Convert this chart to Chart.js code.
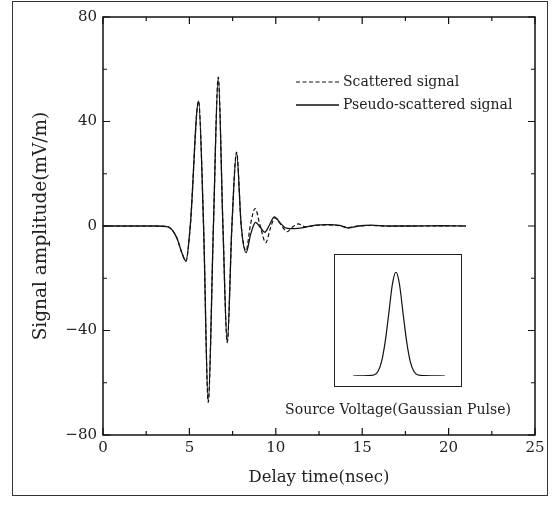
<!DOCTYPE html>
<html lang="en">
<head>
    <meta charset="UTF-8">
    <title>Scattered signal</title>
    <script src="https://cdn.jsdelivr.net/npm/chart.js"></script>
    <style>
        body { margin: 0; background: #fff; font-family: "DejaVu Serif", serif; color: #222; }
        .wrap { position: relative; width: 557px; height: 506px; }
        .frame { position: absolute; left: 12px; top: 1px; width: 534px; height: 493px; border: 1.5px solid #333; }
        #main { position: absolute; left: 0; top: 0; }
        .legend { position: absolute; left: 296px; top: 70px; font-size: 14px; line-height: 23px; }
        .legend div { display: flex; align-items: center; }
        .legend svg { margin-right: 4px; }
        .inset { position: absolute; left: 334px; top: 254px; width: 126px; height: 131px; border: 1px solid #222; }
        .caption { position: absolute; left: 268px; width: 260px; top: 401px; text-align: center; font-size: 14px; }
    </style>
</head>
<body>
    <div class="wrap">
        <div class="frame"></div>
        <canvas id="main" width="557" height="506"></canvas>
        <div class="legend">
            <div><svg width="43" height="4"><line x1="0" y1="2" x2="43" y2="2" stroke="#111" stroke-width="1.2" stroke-dasharray="4 2.5"/></svg>Scattered signal</div>
            <div><svg width="43" height="4"><line x1="0" y1="2" x2="43" y2="2" stroke="#111" stroke-width="1.3"/></svg>Pseudo-scattered signal</div>
        </div>
        <div class="inset"><canvas id="pulse" width="126" height="131"></canvas></div>
        <div class="caption">Source Voltage(Gaussian Pulse)</div>
    </div>

    <script>
        // delay time (nsec) / amplitude (mV/m)
        const pseudoTime = [0, 3.0, 3.7, 4.0, 4.3, 4.55, 4.8, 5.05, 5.53, 5.82, 6.09, 6.39, 6.67, 6.94, 7.19, 7.46, 7.73, 8.0, 8.28, 8.55, 8.83, 9.1, 9.36, 9.62, 9.92, 10.25, 10.6, 11.1, 11.6, 12.3, 13.0, 13.7, 14.2, 14.8, 15.5, 16.5, 18, 19.5, 21];
        const pseudoAmp  = [0, 0, -0.2, -1.5, -5, -10, -13.4, 0, 47.8, 0, -67.3, 0, 56.8, 0, -44.7, 0, 28.1, 0, -10.2, -3, 1.4, -0.5, -2.4, 0.2, 3.5, 1.2, -0.8, -1.0, -0.6, 0.3, 0.5, 0.2, -0.8, 0, 0.3, 0, 0, 0.1, 0];

        const scatterTime = [0, 3.0, 3.7, 4.0, 4.3, 4.55, 4.8, 5.05, 5.53, 5.82, 6.09, 6.39, 6.67, 6.94, 7.19, 7.46, 7.73, 8.0, 8.28, 8.52, 8.8, 9.1, 9.42, 9.68, 9.95, 10.3, 10.65, 10.95, 11.3, 11.7, 12.3, 13.0, 13.7, 14.2, 14.8, 15.5, 16.5, 18, 19.5, 21];
        const scatterAmp  = [0, 0, -0.2, -1.5, -5, -10, -13.4, 0, 47.8, 0, -67.5, 0, 57, 0, -44.5, 0, 28.3, 0, -9.5, 0, 6.7, 0, -6.4, -1, 3.1, 0.5, -2.2, -0.5, 0.8, -0.3, 0.2, 0.4, 0.1, -0.6, 0, 0.2, -0.1, 0, 0, 0];

        // inset: source gaussian pulse (relative units)
        const pulseTime = [0, 14, 21, 24.5, 28, 31.5, 35, 38.5, 42, 45.5, 49, 52.5, 56, 59.5, 63, 70, 90];
        const pulseAmp  = [0, 0.004, 0.012, 0.045, 0.14, 0.33, 0.6, 0.88, 1, 0.88, 0.6, 0.33, 0.14, 0.045, 0.012, 0.004, 0];

        const xTicksMajor = [0, 5, 10, 15, 20, 25];
        const yTicksMajor = [-80, -40, 0, 40, 80];

        const toPoints = (xs, ys) => xs.map((v, i) => ({x: v, y: ys[i]}));
        const serif = '"DejaVu Serif", serif';

        // ticks pointing inward on all four sides + closed box
        const insideTicks = {
            id: 'insideTicks',
            afterDraw(chart) {
                const {ctx, chartArea: a, scales: {x, y}} = chart;
                ctx.save();
                ctx.strokeStyle = '#111';
                ctx.lineWidth = 1.5;
                ctx.strokeRect(a.left, a.top, a.right - a.left, a.bottom - a.top);
                ctx.lineWidth = 1.2;
                ctx.beginPath();
                x.ticks.forEach(t => {
                    const px = x.getPixelForValue(t.value);
                    const len = xTicksMajor.includes(t.value) ? 7 : 4;
                    ctx.moveTo(px, a.bottom); ctx.lineTo(px, a.bottom - len);
                    ctx.moveTo(px, a.top); ctx.lineTo(px, a.top + len);
                });
                y.ticks.forEach(t => {
                    const py = y.getPixelForValue(t.value);
                    const len = yTicksMajor.includes(t.value) ? 7 : 4;
                    ctx.moveTo(a.left, py); ctx.lineTo(a.left + len, py);
                    ctx.moveTo(a.right, py); ctx.lineTo(a.right - len, py);
                });
                ctx.stroke();
                ctx.restore();
            }
        };

        new Chart(document.getElementById('main'), {
            type: 'line',
            data: {
                datasets: [{
                    label: 'Pseudo-scattered signal',
                    data: toPoints(pseudoTime, pseudoAmp),
                    borderColor: '#111',
                    borderWidth: 1.3,
                    pointRadius: 0,
                    cubicInterpolationMode: 'monotone'
                }, {
                    label: 'Scattered signal',
                    data: toPoints(scatterTime, scatterAmp),
                    borderColor: '#111',
                    borderWidth: 1.2,
                    borderDash: [4, 2.5],
                    pointRadius: 0,
                    cubicInterpolationMode: 'monotone'
                }]
            },
            options: {
                responsive: false,
                animation: false,
                events: [],
                layout: { padding: { top: 17, right: 22, left: 0, bottom: 0 } },
                plugins: { legend: { display: false }, tooltip: { enabled: false } },
                scales: {
                    x: {
                        type: 'linear',
                        min: 0, max: 25,
                        afterFit(s) { s.height = 71; },
                        grid: { display: false, drawTicks: false },
                        border: { display: false },
                        ticks: {
                            stepSize: 2.5,
                            autoSkip: false,
                            maxRotation: 0,
                            padding: 4,
                            color: '#222',
                            font: { family: serif, size: 15 },
                            callback: v => xTicksMajor.includes(v) ? String(v) : ''
                        },
                        title: {
                            display: true,
                            text: 'Delay time(nsec)',
                            color: '#222',
                            font: { family: serif, size: 16.5 },
                            padding: { top: 0, bottom: 18 }
                        }
                    },
                    y: {
                        min: -80, max: 80,
                        afterFit(s) { s.width = 103; },
                        grid: { display: false, drawTicks: false },
                        border: { display: false },
                        ticks: {
                            stepSize: 20,
                            autoSkip: false,
                            padding: 6,
                            color: '#222',
                            font: { family: serif, size: 15 },
                            callback: v => yTicksMajor.includes(v) ? (v < 0 ? '\u2212' + (-v) : String(v)) : ''
                        },
                        title: {
                            display: true,
                            text: 'Signal amplitude(mV/m)',
                            color: '#222',
                            font: { family: serif, size: 18.5 },
                            padding: { top: 30, bottom: 0 }
                        }
                    }
                }
            },
            plugins: [insideTicks]
        });

        new Chart(document.getElementById('pulse'), {
            type: 'line',
            data: {
                datasets: [{
                    data: toPoints(pulseTime, pulseAmp),
                    borderColor: '#111',
                    borderWidth: 1.2,
                    pointRadius: 0,
                    cubicInterpolationMode: 'monotone'
                }]
            },
            options: {
                responsive: false,
                animation: false,
                events: [],
                layout: { padding: { left: 18, right: 16, top: 17, bottom: 10 } },
                plugins: { legend: { display: false }, tooltip: { enabled: false } },
                scales: {
                    x: { type: 'linear', min: 0, max: 90, display: false },
                    y: { min: 0, max: 1, display: false }
                }
            }
        });
    </script>
</body>
</html>
